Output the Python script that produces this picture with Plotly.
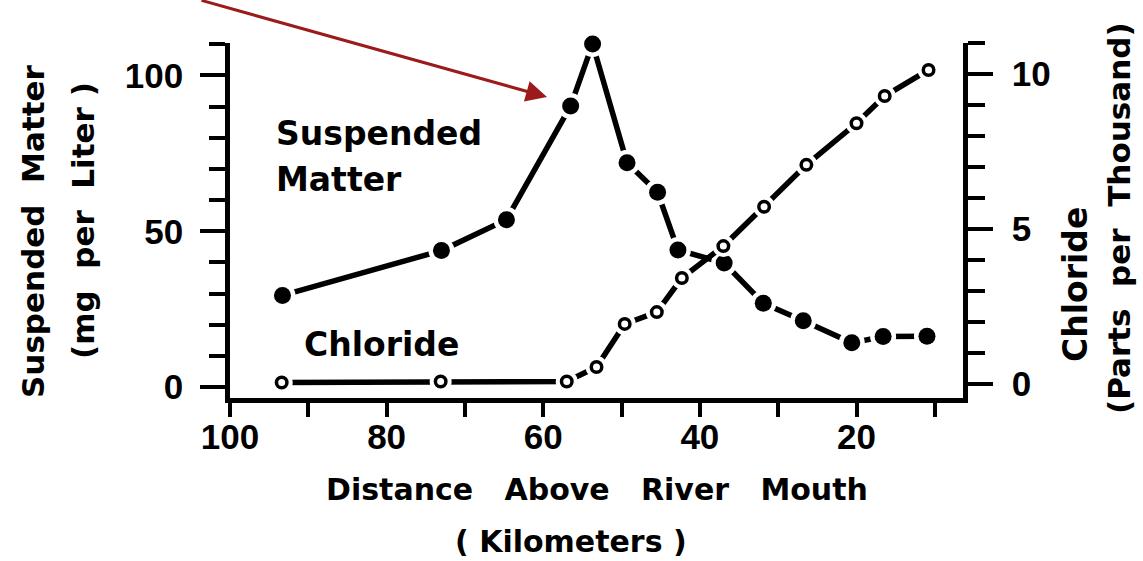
import plotly.graph_objects as go

# ---- data ----
km_suspended = [93.3, 73.0, 64.7, 56.5, 53.7, 49.3, 45.4, 42.8, 36.9, 31.9, 26.8, 20.6, 16.6, 11.0]
suspended_mg_l = [29.4, 43.8, 53.7, 90.2, 110.1, 72.0, 62.5, 44.0, 39.8, 26.9, 21.3, 14.2, 16.2, 16.3]

km_chloride = [93.4, 73.1, 57.0, 53.2, 49.6, 45.5, 42.3, 37.0, 31.8, 26.4, 20.0, 16.4, 10.8]
chloride_ppt = [0.05, 0.08, 0.08, 0.55, 1.94, 2.32, 3.42, 4.45, 5.72, 7.07, 8.41, 9.29, 10.13]

x_tickvals = [100, 80, 60, 40, 20]
x_ticktext = ["100", "80", "60", "40", "20"]
yl_tickvals = [0, 50, 100]
yl_ticktext = ["0", "50", "100"]
yr_tickvals = [0, 5, 10]
yr_ticktext = ["0", "5", "10"]

# ---- layout geometry (pixels) ----
FW, FH = 1143, 561
L, R, T, B = 230, 963, 43, 398
W, H = R - L, B - T


def px(x):
    return (x - L) / W


def py(y):
    return (B - y) / H


LINE_W = 5.5
TICKFONT = dict(family="Liberation Sans", size=35, color="black", weight="bold")
LABFONT = dict(family="DejaVu Sans", size=33, color="black", weight="bold")
TITFONT = dict(family="DejaVu Sans", size=30, color="black", weight="bold")
YTITFONT = dict(family="DejaVu Sans", size=31, color="black", weight="bold")

fig = go.Figure()

# Suspended matter: line, white halo (gap), filled markers
fig.add_trace(go.Scatter(x=km_suspended, y=suspended_mg_l, mode="lines",
                         line=dict(color="black", width=LINE_W), yaxis="y", cliponaxis=False,
                         showlegend=False, hoverinfo="skip"))
fig.add_trace(go.Scatter(x=km_suspended, y=suspended_mg_l, mode="markers",
                         marker=dict(color="white", size=26, line=dict(width=0)), yaxis="y",
                         cliponaxis=False, showlegend=False, hoverinfo="skip"))
fig.add_trace(go.Scatter(x=km_suspended, y=suspended_mg_l, mode="markers",
                         marker=dict(color="black", size=17, line=dict(width=0)), yaxis="y",
                         cliponaxis=False, showlegend=False, name="Suspended Matter"))

# Chloride: line, white halo, open markers
fig.add_trace(go.Scatter(x=km_chloride, y=chloride_ppt, mode="lines",
                         line=dict(color="black", width=LINE_W), yaxis="y2", cliponaxis=False,
                         showlegend=False, hoverinfo="skip"))
fig.add_trace(go.Scatter(x=km_chloride, y=chloride_ppt, mode="markers",
                         marker=dict(color="white", size=22, line=dict(width=0)), yaxis="y2",
                         cliponaxis=False, showlegend=False, hoverinfo="skip"))
fig.add_trace(go.Scatter(x=km_chloride, y=chloride_ppt, mode="markers",
                         marker=dict(color="white", size=10.5, line=dict(color="black", width=3.5)),
                         yaxis="y2", cliponaxis=False, showlegend=False, name="Chloride"))

annotations = [
    dict(text="Suspended", x=px(274), y=py(133), xanchor="left", yanchor="middle", font=LABFONT),
    dict(text="Matter", x=px(274), y=py(179), xanchor="left", yanchor="middle", font=LABFONT),
    dict(text="Chloride", x=px(302), y=py(344), xanchor="left", yanchor="middle", font=LABFONT),
    dict(text="Distance\u00a0\u00a0\u00a0Above\u00a0\u00a0\u00a0River\u00a0\u00a0\u00a0Mouth",
         x=px(597), y=py(489), xanchor="center", yanchor="middle", font=TITFONT),
    dict(text="(\u00a0Kilometers\u00a0)", x=px(571), y=py(541), xanchor="center", yanchor="middle",
         font=TITFONT),
    dict(text="Suspended\u00a0\u00a0Matter", x=px(33), y=py(231), textangle=-90,
         xanchor="center", yanchor="middle", font=YTITFONT),
    dict(text="(mg\u00a0\u00a0per\u00a0\u00a0Liter\u00a0)", x=px(83), y=py(221), textangle=-90,
         xanchor="center", yanchor="middle", font=YTITFONT),
    dict(text="Chloride", x=px(1075), y=py(285), textangle=-90,
         xanchor="center", yanchor="middle", font=dict(LABFONT)),
    dict(text="(Parts\u00a0\u00a0per\u00a0\u00a0Thousand)", x=px(1119), y=py(218), textangle=-90,
         xanchor="center", yanchor="middle", font=YTITFONT),
    # red pointer arrow
    dict(text="", x=px(547), y=py(97), ax=200 - 547, ay=0 - 97, showarrow=True,
         arrowhead=2, arrowsize=1.4, arrowwidth=3, arrowcolor="#9B1B1B", standoff=0),
]
for a in annotations:
    a.setdefault("xref", "paper")
    a.setdefault("yref", "paper")
    a.setdefault("showarrow", False)

fig.update_layout(
    width=FW, height=FH,
    margin=dict(l=L, r=FW - R, t=T, b=FH - B, pad=0),
    paper_bgcolor="white", plot_bgcolor="white",
    showlegend=False,
    annotations=annotations,
    xaxis=dict(
        range=[100, 6.4], showgrid=False, zeroline=False,
        showline=True, linecolor="black", linewidth=4.5,
        tickmode="array", tickvals=x_tickvals, ticktext=x_ticktext,
        ticks="outside", ticklen=14, tickwidth=4, tickcolor="black",
        minor=dict(ticks="outside", dtick=10, tick0=0, ticklen=14, tickwidth=4, tickcolor="black"),
        tickfont=TICKFONT, ticklabelstandoff=-10,
    ),
    yaxis=dict(
        range=[-3.5, 110.4], showgrid=False, zeroline=False,
        showline=True, linecolor="black", linewidth=4.5,
        tickmode="array", tickvals=yl_tickvals, ticktext=yl_ticktext,
        ticks="outside", ticklen=25, tickwidth=4, tickcolor="black",
        minor=dict(ticks="outside", dtick=10, tick0=0, ticklen=16, tickwidth=4, tickcolor="black"),
        tickfont=TICKFONT, ticklabelstandoff=10,
    ),
    yaxis2=dict(
        range=[-0.45, 11.0], overlaying="y", side="right", showgrid=False, zeroline=False,
        showline=True, linecolor="black", linewidth=4.5,
        tickmode="array", tickvals=yr_tickvals, ticktext=yr_ticktext,
        ticks="outside", ticklen=25, tickwidth=4, tickcolor="black",
        minor=dict(ticks="outside", dtick=1, tick0=0, ticklen=17, tickwidth=4, tickcolor="black"),
        tickfont=TICKFONT, ticklabelstandoff=12,
    ),
)

fig.write_html("out.html")
